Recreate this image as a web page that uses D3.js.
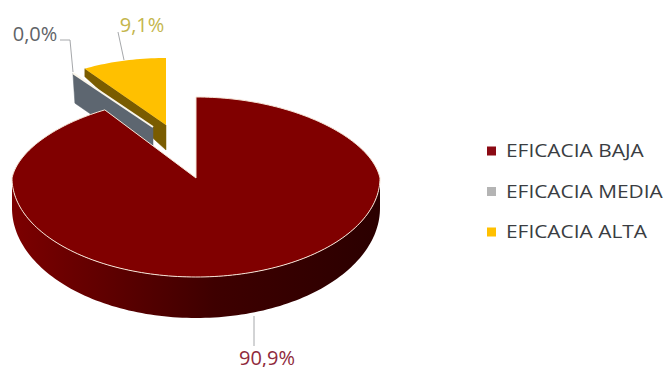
<!DOCTYPE html>
<html lang="es">
<head>
<meta charset="utf-8">
<style>
  html, body { margin: 0; padding: 0; background: #fff; }
  svg { display: block; }
  text { font-family: "Open Sans", "Noto Sans", sans-serif; }
</style>
</head>
<body>
<svg id="chart" width="667" height="367"></svg>
<script src="https://cdn.jsdelivr.net/npm/d3@7/dist/d3.min.js"></script>
<script>
const categories = ["EFICACIA BAJA", "EFICACIA MEDIA", "EFICACIA ALTA"];
const values = [90.9, 0.0, 9.1];
const valueLabels = ["90,9%", "0,0%", "9,1%"];
const topColors = ["#800000", "#5d6670", "#ffc000"];
const wallColors = ["#5a0000", "#5d6670", "#7a5c00"];
const legendColors = ["#8b0a14", "#b4b4b4", "#ffc000"];
const labelColors = ["#8f2a3c", "#5f6368", "#c4b64c"];

// Each wedge is pulled away from the middle, and further wedges appear smaller.
const frames = [
  { cx: 196, cy: 178, rx: 184, back: 81, front: 99, taper: 0.1, rimWall: 0, apexWall: 0 },
  { cx: 153, cy: 127, rx: 148, back: 64, front: 64, taper: 0, rimWall: 30, apexWall: 30 },
  { cx: 166, cy: 125, rx: 150, back: 67, front: 67, taper: 0, rimWall: 8, apexWall: 25 }
];

const svg = d3.select("#chart");
const defs = svg.append("defs");

const sideShade = defs.append("linearGradient").attr("id", "sideShade");
sideShade.append("stop").attr("offset", "0%").attr("stop-color", "#7c0000");
sideShade.append("stop").attr("offset", "30%").attr("stop-color", "#5a0000");
sideShade.append("stop").attr("offset", "55%").attr("stop-color", "#3e0000");
sideShade.append("stop").attr("offset", "100%").attr("stop-color", "#2b0000");

const slices = d3.pie().sort(null).value(d => d)(values);

// Wall height grows towards the viewer.
const wallHeight = d3.scaleLinear().domain([178, 277]).range([30, 41]).clamp(true);

function project(f, angle) {
  const c = Math.cos(angle);
  const narrowing = c > 0 ? 1 - f.taper * c : 1;
  return [
    f.cx + f.rx * narrowing * Math.sin(angle),
    f.cy - (c > 0 ? f.back : f.front) * c
  ];
}

function arcPoints(f, a0, a1) {
  const n = Math.max(2, Math.ceil(Math.abs(a1 - a0) * 40));
  return d3.range(n + 1).map(i => project(f, a0 + (a1 - a0) * i / n));
}

const path = d3.line();

// Exposed cut face of a pulled-out wedge, along its leading radius.
function drawCutWall(i) {
  const f = frames[i];
  const apex = [f.cx, f.cy];
  const rim = project(f, slices[i].startAngle);
  svg.append("path")
    .attr("d", path([
      apex, rim,
      [rim[0] + (i === 1 ? 2 : 0), rim[1] + f.rimWall],
      [apex[0], apex[1] + f.apexWall]
    ]) + "Z")
    .attr("fill", wallColors[i])
    .attr("stroke", wallColors[i])
    .attr("stroke-width", 0.5);
}

function drawTop(i, outline) {
  const f = frames[i];
  const pts = arcPoints(f, slices[i].startAngle, slices[i].endAngle);
  svg.append("path")
    .attr("d", path([[f.cx, f.cy], ...pts]) + "Z")
    .attr("fill", topColors[i])
    .attr("stroke", outline)
    .attr("stroke-width", 1)
    .attr("stroke-linejoin", "round");
}

// Yellow wedge at the back, the zero-width grey wedge over it, the large wedge in front.
drawCutWall(2);
drawTop(2, "none");

drawCutWall(1);
svg.append("path")
  .attr("d", path([[frames[1].cx, frames[1].cy], project(frames[1], slices[1].startAngle)]))
  .attr("stroke", "#fbf6ea").attr("stroke-width", 2);

// Rounded outer wall of the large wedge, visible along the front half only.
const big = frames[0];
const frontEdge = arcPoints(big, Math.PI / 2, 3 * Math.PI / 2);
const wallBottom = frontEdge.map(([x, y]) => [x, y + wallHeight(y)]).reverse();
svg.append("path")
  .attr("d", path([...frontEdge, ...wallBottom]) + "Z")
  .attr("fill", "url(#sideShade)");

drawTop(0, "#f6e4d6");

// Leader lines from the wedges to their percentages.
const leaders = [
  { points: [[254, 316], [254, 346]] },
  { points: [[60, 40], [70, 40], [73, 72]] },
  { points: [[118, 32], [124, 60]] }
];
leaders.forEach(l => {
  svg.append("path")
    .attr("d", path(l.points))
    .attr("fill", "none")
    .attr("stroke", "#a6a8ab")
    .attr("stroke-width", 1);
});

// Percentage labels.
const labelPlaces = [[267, 365], [35, 41], [142, 32]];
valueLabels.forEach((t, i) => {
  svg.append("text")
    .attr("x", labelPlaces[i][0])
    .attr("y", labelPlaces[i][1])
    .attr("text-anchor", "middle")
    .attr("font-size", 20)
    .attr("fill", labelColors[i])
    .text(t);
});

// Legend.
const legendRow = d3.scalePoint().domain(categories).range([151, 232]);
const legend = svg.selectAll("g.legend").data(categories).join("g")
  .attr("class", "legend")
  .attr("transform", d => `translate(0,${legendRow(d)})`);
legend.append("rect")
  .attr("x", 487).attr("y", -4.5)
  .attr("width", 9).attr("height", 9)
  .attr("fill", (d, i) => legendColors[i]);
legend.append("text")
  .attr("transform", "translate(506,6) scale(1.13,1)")
  .attr("font-size", 18.5)
  .attr("fill", "#3a3d42")
  .text(d => d);
</script>
</body>
</html>
